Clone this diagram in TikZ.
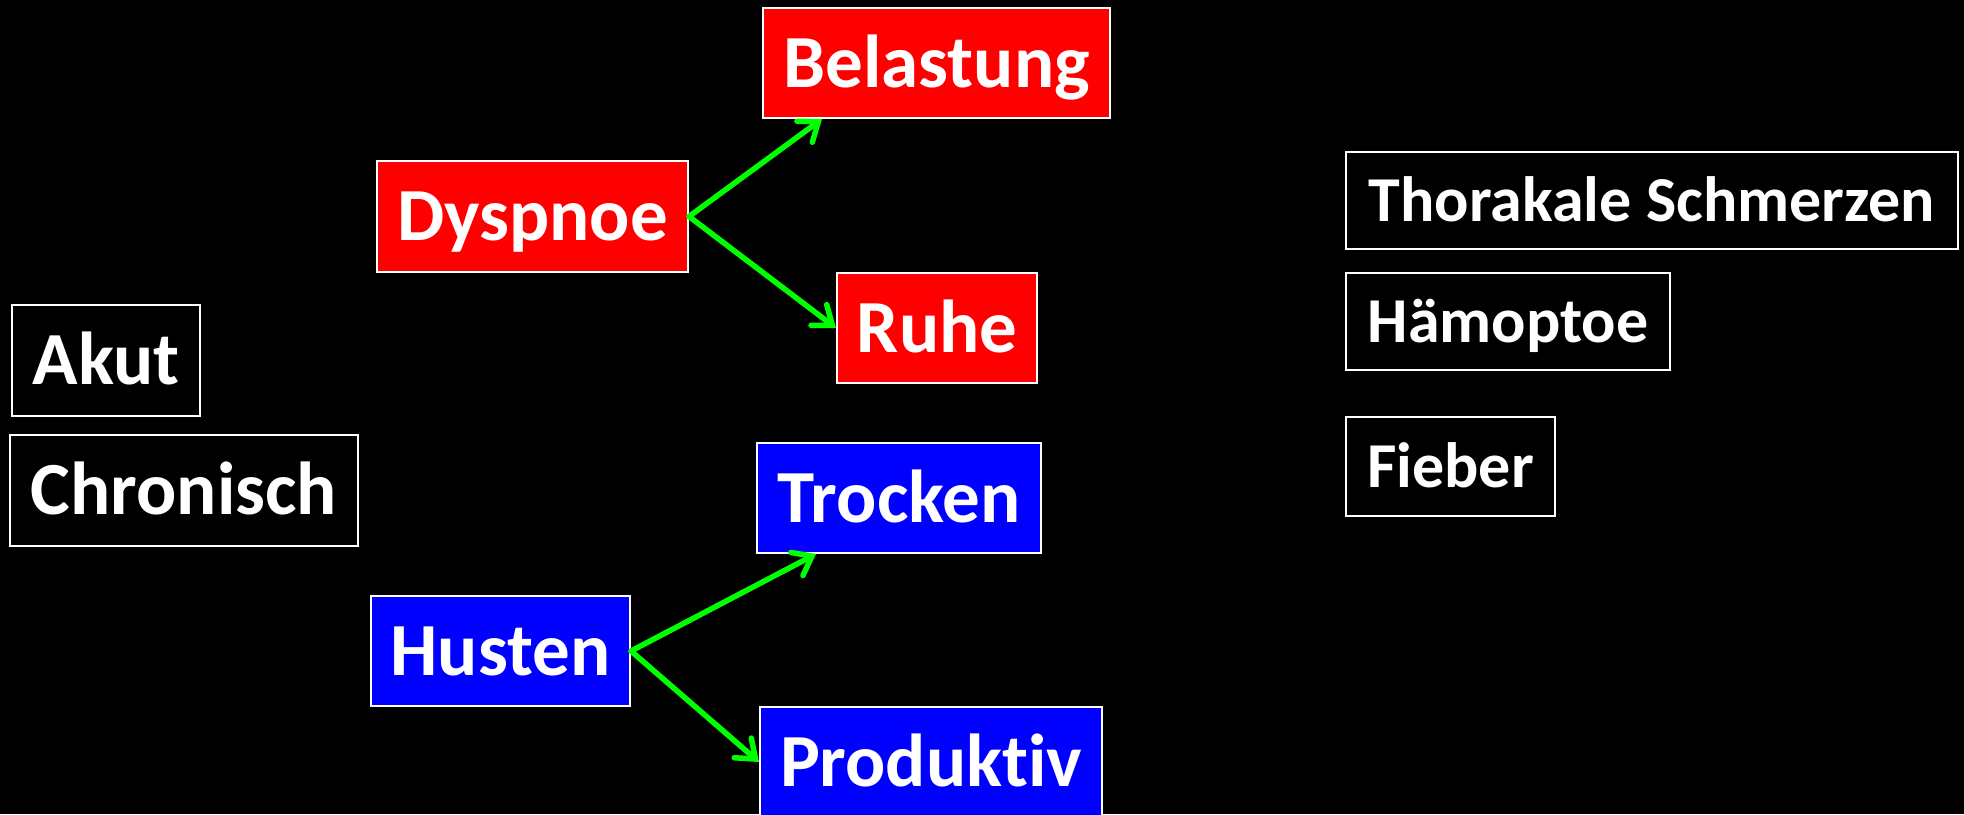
\documentclass[tikz,border=0pt]{standalone}
\usepackage{fontspec}
\setmainfont[Ligatures=NoCommon]{Carlito}
\usetikzlibrary{arrows.meta}
\begin{document}
\begin{tikzpicture}[x=1pt,y=-1pt,
  card/.style={rectangle, draw=white, line width=2pt, inner sep=0pt,
    text=white, align=center, text depth=0pt},
  bigtext/.style={font=\bfseries\fontsize{75}{80}\selectfont, text height=48pt},
  smalltext/.style={font=\bfseries\fontsize{64}{68}\selectfont, text height=41pt},
  redcard/.style={card, bigtext, fill=red},
  bluecard/.style={card, bigtext, fill=blue},
  plaincard/.style={card, bigtext, fill=black},
  sidecard/.style={card, smalltext, fill=black},
  link/.style={draw={rgb,255:red,0;green,255;blue,0}, line width=5.5pt, line cap=round,
    -{Straight Barb[length=17pt, width=26pt, line cap=round]}}
]
\fill[black] (0,0) rectangle (1964,814);
\useasboundingbox (0,0) rectangle (1964,814);
\clip (0,0) rectangle (1964,814);

% dyspnoea branch
\node[redcard, minimum width=347pt, minimum height=110pt] (bel) at (936.5,63) {Belastung};
\node[redcard, minimum width=311pt, minimum height=111pt] (dys) at (532.5,216.5) {Dyspnoe};
\node[redcard, minimum width=200pt, minimum height=110pt] (ruh) at (937,328) {Ruhe};

% onset
\node[plaincard, minimum width=188pt, minimum height=111pt] (aku) at (106,360.5) {Akut};
\node[plaincard, minimum width=348pt, minimum height=111pt] (chr) at (184,490.5) {Chronisch};

% cough branch
\node[bluecard, minimum width=284pt, minimum height=110pt] (tro) at (899,498) {Trocken};
\node[bluecard, minimum width=259pt, minimum height=110pt] (hus) at (500.5,651) {Husten};
\node[bluecard, minimum width=342pt, minimum height=110pt] (pro) at (931,762) {Produktiv};

% further symptoms
\node[sidecard, minimum width=612pt, minimum height=97pt] (tho) at (1652,200.5) {Thorakale Schmerzen};
\node[sidecard, minimum width=324pt, minimum height=97pt] (ham) at (1508,321.5) {Hämoptoe};
\node[sidecard, minimum width=209pt, minimum height=99pt] (fie) at (1450.5,466.5) {Fieber};

% connectors
\draw[link] (dys.east) -- ([xshift=60pt]bel.south west);
\draw[link] (dys.east) -- (ruh.west);
\draw[link] (hus.east) -- ([xshift=60pt]tro.south west);
\draw[link] (hus.east) -- (pro.west);
\end{tikzpicture}
\end{document}
